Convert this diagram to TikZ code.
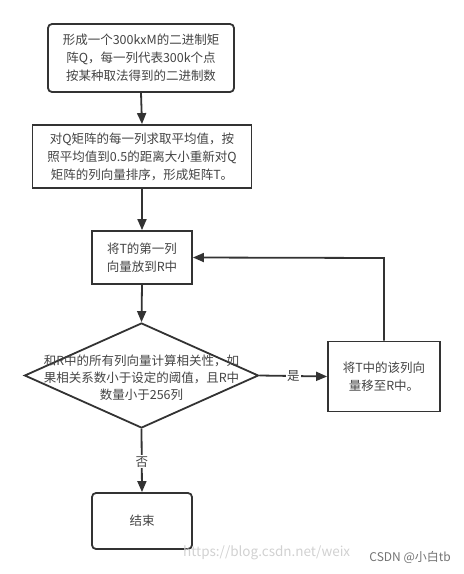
\documentclass[tikz,border=0pt]{standalone}
\usepackage{fontspec}
\setmainfont{Noto Sans CJK SC}
\usetikzlibrary{arrows.meta,shapes.geometric}
\definecolor{linec}{HTML}{333333}
\definecolor{textc}{HTML}{444444}
\tikzset{
  x=1pt,y=-1pt,
  box/.style={draw=linec,line width=1.8pt,fill=white,align=center,text=textc,
    font=\fontsize{12.5}{18}\selectfont,inner sep=0pt},
  rbox/.style={box,rounded corners=4pt},
  conn/.style={draw=linec,line width=1.8pt,-{Triangle[length=11pt,width=9pt]}},
  lab/.style={fill=white,text=textc,font=\fontsize{12.5}{15}\selectfont,inner sep=1pt},
}
\begin{document}
\begin{tikzpicture}
\useasboundingbox (0,0) rectangle (464,574);
\node[rbox,minimum width=186pt,minimum height=68pt] (b1) at (141,58)
  {形成一个300kxM的二进制矩\\阵Q，每一列代表300k个点\\按某种取法得到的二进制数};
\node[box,minimum width=219pt,minimum height=63pt] (b2) at (142,156.5)
  {对Q矩阵的每一列求取平均值，按\\照平均值到0.5的距离大小重新对Q\\矩阵的列向量排序，形成矩阵T。};
\node[box,minimum width=100pt,minimum height=53pt] (b3) at (142,257.5)
  {将T的第一列\\向量放到R中};
\node[diamond,draw=linec,line width=1.8pt,minimum width=234pt,minimum height=105pt,inner sep=0pt] (d) at (141.5,375.5) {};
\node[align=center,text=textc,font=\fontsize{12.5}{17}\selectfont,inner sep=0pt] (dt) at (141.5,378)
  {和R中的所有列向量计算相关性，如\\果相关系数小于设定的阈值，且R中\\数量小于256列};
\node[box,minimum width=112pt,minimum height=70pt] (b4) at (384,376.5)
  {将T中的该列向\\量移至R中。};
\node[rbox,minimum width=100pt,minimum height=56pt] (b5) at (142,521) {结束};
\coordinate (c1) at (384,258);
\draw[conn] (b1.south) -- (b2.north);
\draw[conn] (b2.south) -- (b3.north);
\draw[conn] (b3.south) -- (d.north);
\draw[conn] (d.east) -- node[lab] (yes) {是} (b4.west);
\draw[conn] (d.south) -- node[lab,pos=0.52] (no) {否} (b5.north);
\draw[conn] (b4.north) -- (c1) -- (b3.east);
\node[text=black!18,font=\fontsize{13.5}{15}\selectfont,anchor=west,inner sep=0pt] (url) at (183,553) {https://blog.csdn.net/weix};
\node[text=black!55,font=\fontsize{12}{14}\selectfont,anchor=east,inner sep=0pt] (wm) at (451,557) {CSDN @小白tb};
\end{tikzpicture}
\end{document}
